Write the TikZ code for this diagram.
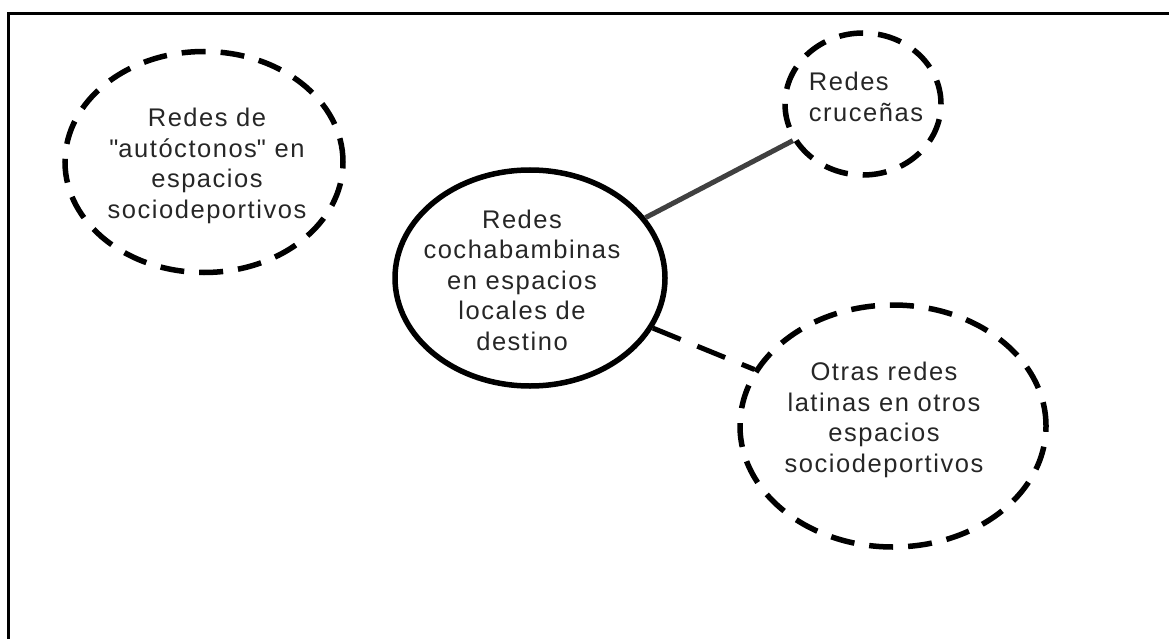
\documentclass[tikz,border=0pt]{standalone}
\usepackage{fontspec}
\setmainfont{Liberation Sans}[LetterSpace=6]
\newcommand\strq{\XeTeXglyph\XeTeXcharglyph"22\relax}
\usetikzlibrary{shapes.geometric}
\begin{document}
\begin{tikzpicture}[x=1pt,y=-1pt,
  bubble/.style={draw=black,ellipse,line width=5.5pt,inner sep=0pt},
  dbubble/.style={bubble,dash pattern=on 24pt off 15pt},
  lbl/.style={align=center,font=\fontsize{25.5}{30.5}\selectfont,inner sep=0pt,text=black!85},
  link/.style={line width=5pt,draw=black!75}]
\useasboundingbox (0,0) rectangle (1169,639);
\coordinate (fbl) at (8,639);
\coordinate (ftl) at (8,14);
\coordinate (ftr) at (1169,14);
\draw[line width=3pt,line cap=rect] (fbl) -- (ftl) -- (ftr);
\node[dbubble,minimum width=278pt,minimum height=221pt] (auto) at (204,162) {};
\node[bubble,minimum width=270pt,minimum height=216pt] (coch) at (530,278) {};
\node[dbubble,minimum width=156pt,minimum height=142pt] (cruc) at (863,104) {};
\node[dbubble,minimum width=306pt,minimum height=242pt] (otras) at (893,426) {};
\node[lbl] (tauto) at (207,166) {Redes de\\\strq autóctonos\strq{} en\\espacios\\sociodeportivos};
\node[lbl] (tcoch) at (522,280) {Redes\\cochabambinas\\en espacios\\locales de\\destino};
\node[lbl,align=left] (tcruc) at (866,97) {Redes\\cruceñas};
\node[lbl] (totras) at (884,420) {Otras redes\\latinas en otros\\espacios\\sociodeportivos};
\draw[link] (coch) -- (cruc);
\draw[link,draw=black,dash pattern=on 30pt off 18pt] (coch) -- (otras);
\end{tikzpicture}
\end{document}
